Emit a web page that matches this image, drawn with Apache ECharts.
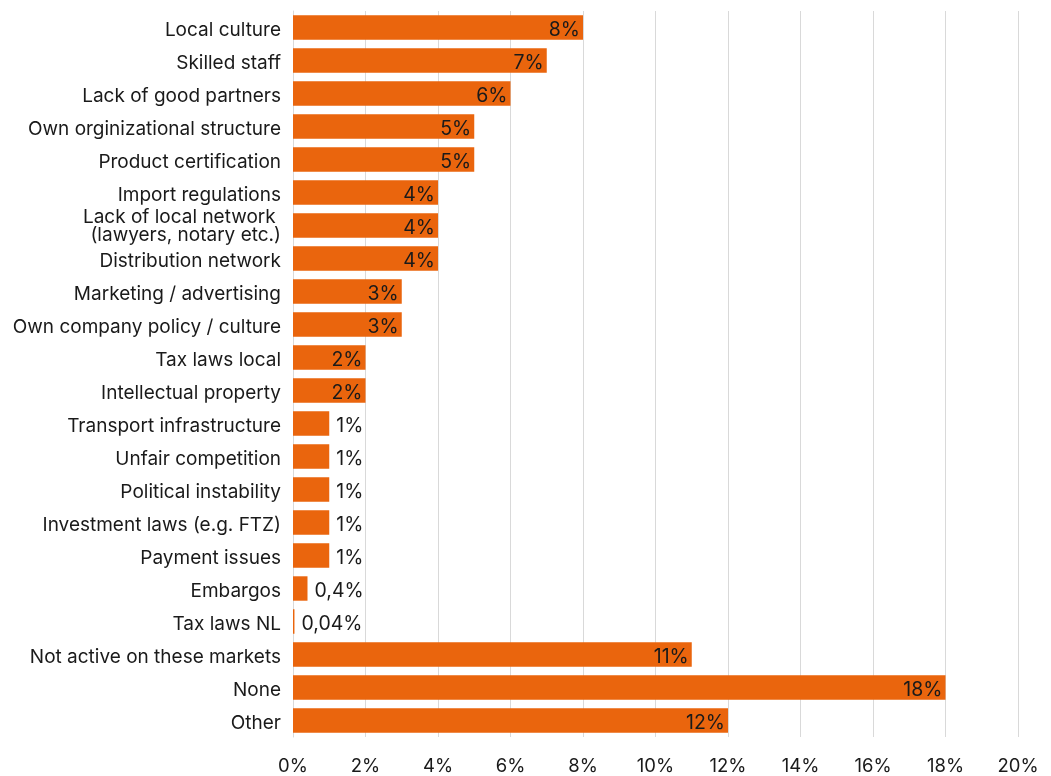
<!DOCTYPE html>
<html>
<head>
<meta charset="utf-8">
<script src="https://cdn.jsdelivr.net/npm/echarts@6/dist/echarts.min.js"></script>
<style>
  html, body { margin: 0; padding: 0; background: #fff; }
  #chart { width: 1051px; height: 776px; }
</style>
</head>
<body>
<div id="chart"></div>
<script>
// Obstacles, listed top to bottom
const categories = [
  'Local culture',
  'Skilled staff',
  'Lack of good partners',
  'Own orginizational structure',
  'Product certification',
  'Import regulations',
  'Lack of local network \n(lawyers, notary etc.)',
  'Distribution network',
  'Marketing / advertising',
  'Own company policy / culture',
  'Tax laws local',
  'Intellectual property',
  'Transport infrastructure',
  'Unfair competition',
  'Political instability',
  'Investment laws (e.g. FTZ)',
  'Payment issues',
  'Embargos',
  'Tax laws NL',
  'Not active on these markets',
  'None',
  'Other'
];
// Share of respondents, percent
const values = [8, 7, 6, 5, 5, 4, 4, 4, 3, 3, 2, 2, 1, 1, 1, 1, 1, 0.4, 0.04, 11, 18, 12];
const valueLabels = ['8%', '7%', '6%', '5%', '5%', '4%', '4%', '4%', '3%', '3%', '2%', '2%',
  '1%', '1%', '1%', '1%', '1%', '0,4%', '0,04%', '11%', '18%', '12%'];
const xTicks = [0, 2, 4, 6, 8, 10, 12, 14, 16, 18, 20];

const FONT = 'Inter';
const ORANGE = '#EA650D';
const INK = '#1a1a1a';

const data = values.map((v, i) => ({
  value: v,
  label: v >= 2
    ? { position: 'insideRight', distance: 3 }
    : { position: 'right', distance: 7 }
}));

// First line carries a little top padding so the text block sits slightly low
function categoryLabel(text) {
  return text.split('\n')
    .map((line, i) => (i === 0 ? '{first|' : '{rest|') + line + '}')
    .join('\n');
}

const labelText = { color: INK, fontFamily: FONT, fontSize: 19, lineHeight: 19 };

const chart = echarts.init(document.getElementById('chart'));
chart.setOption({
  animation: false,
  grid: { left: 293, right: 33, top: 11, bottom: 38, containLabel: false },
  xAxis: {
    type: 'value',
    min: xTicks[0],
    max: xTicks[xTicks.length - 1],
    interval: 2,
    axisLine: { show: false },
    axisTick: { show: false },
    splitLine: { show: true, lineStyle: { color: '#d9d9d9', width: 1 } },
    axisLabel: {
      formatter: v => v + '%',
      color: INK,
      fontFamily: FONT,
      fontSize: 18.5,
      margin: 20
    }
  },
  yAxis: {
    type: 'category',
    data: categories,
    inverse: true,
    axisLine: { show: true, lineStyle: { color: '#d9d9d9', width: 1 } },
    axisTick: { show: false },
    axisLabel: {
      margin: 12,
      formatter: categoryLabel,
      rich: {
        first: Object.assign({ padding: [6, 0, 0, 0] }, labelText),
        rest: Object.assign({}, labelText, { lineHeight: 22 })
      }
    }
  },
  series: [{
    type: 'bar',
    data: data,
    barCategoryGap: '26%',
    itemStyle: { color: ORANGE },
    label: {
      show: true,
      color: INK,
      fontFamily: FONT,
      fontSize: 19.5,
      offset: [0, 2.5],
      formatter: p => valueLabels[p.dataIndex]
    }
  }]
});
</script>
</body>
</html>
